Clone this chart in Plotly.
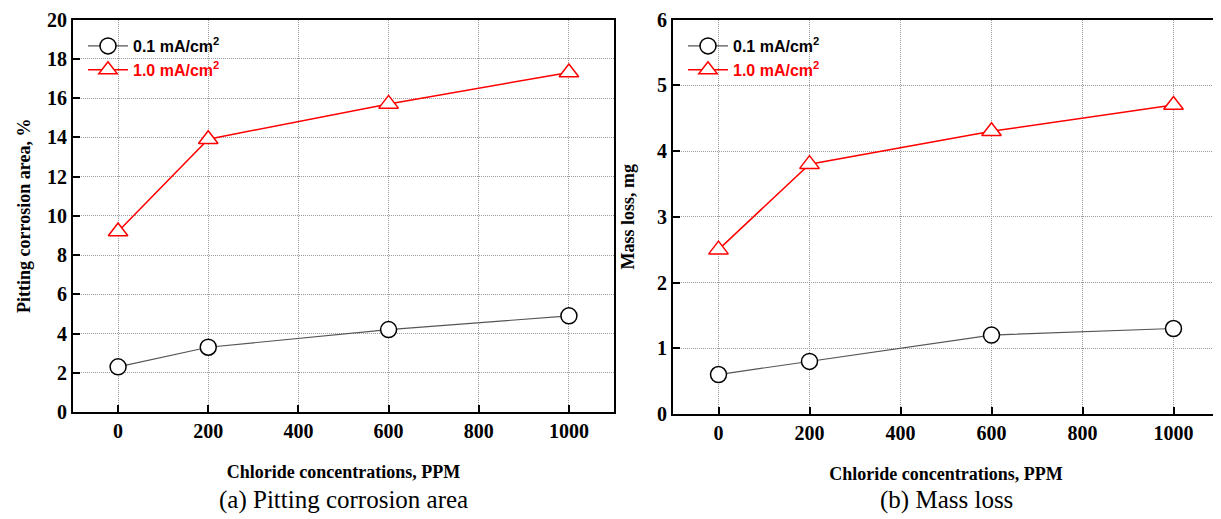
import plotly.graph_objects as go

# Data
chloride_ppm = [0, 200, 600, 1000]
pit_area_01 = [2.3, 3.3, 4.2, 4.9]
pit_area_10 = [9.2, 13.9, 15.7, 17.3]
mass_loss_01 = [0.6, 0.8, 1.2, 1.3]
mass_loss_10 = [2.5, 3.8, 4.3, 4.7]
series_names = ["0.1 mA/cm<sup>2</sup>", "<span style='color:red'>1.0 mA/cm<sup>2</sup></span>"]
x_ticks = [0, 200, 400, 600, 800, 1000]
captions = ["(a) Pitting corrosion area", "(b) Mass loss"]

W, H = 1221, 519
OFF = 8  # page body margin
SERIF = "Liberation Serif"
SANS = "Liberation Sans"


def fx(px):
    return (px - OFF) / W


def fy(py):
    return 1 - (py - OFF) / H


fig = go.Figure()


def add_pair(y01, y10, xa, ya, leg):
    fig.add_trace(go.Scatter(
        x=chloride_ppm, y=y01, mode="lines+markers", name=series_names[0],
        xaxis=xa, yaxis=ya, legend=leg,
        line=dict(color="#555555", width=1.2),
        marker=dict(symbol="circle", size=16, color="white",
                    line=dict(color="black", width=1.5)),
    ))
    fig.add_trace(go.Scatter(
        x=chloride_ppm, y=y10, mode="lines+markers", name=series_names[1],
        xaxis=xa, yaxis=ya, legend=leg,
        line=dict(color="red", width=1.5),
        marker=dict(symbol="triangle-up", size=17, color="white",
                    line=dict(color="red", width=1.5)),
    ))


add_pair(pit_area_01, pit_area_10, "x", "y", "legend")
add_pair(mass_loss_01, mass_loss_10, "x2", "y2", "legend2")

GRID = dict(showgrid=True, gridcolor="#9a9a9a", griddash="1px,1px", gridwidth=1)


def xaxis(domain, anchor):
    return dict(
        domain=domain, anchor=anchor, range=[-100, 1100], automargin=False,
        tickvals=x_ticks, ticks="inside", ticklen=7, tickwidth=2, tickcolor="black",
        showline=True, linewidth=2, linecolor="black", mirror=True,
        zeroline=False, **GRID,
        tickfont=dict(family=SERIF, size=20, color="black", weight="bold"),
        title=dict(text="Chloride concentrations, PPM", standoff=24,
                   font=dict(family=SERIF, size=18, color="black", weight="bold")),
    )


def yaxis(domain, anchor, rng, dtick, title, standoff):
    return dict(
        domain=domain, anchor=anchor, range=rng, dtick=dtick, automargin=False,
        ticks="inside", ticklen=7, tickwidth=2, tickcolor="black",
        showline=True, linewidth=2, linecolor="black", mirror=True,
        zeroline=False, **GRID,
        tickfont=dict(family=SERIF, size=20, color="black", weight="bold"),
        title=dict(text=title, standoff=standoff,
                   font=dict(family=SERIF, size=18, color="black", weight="bold")),
    )


legend_common = dict(
    bgcolor="rgba(0,0,0,0)", borderwidth=0,
    font=dict(family=SANS, size=16, color="black", weight="bold"),
    xanchor="left", yanchor="top", tracegroupgap=0, itemwidth=40,
)

fig.update_layout(
    width=W, height=H, autosize=False,
    margin=dict(l=0, r=0, t=0, b=0, pad=0, autoexpand=False),
    paper_bgcolor="white", plot_bgcolor="white",
    showlegend=True,
    xaxis=xaxis([fx(73), fx(614)], "y"),
    yaxis=yaxis([fy(412), fy(19.5)], "x", [0, 20], 2,
                "Pitting corrosion area, %", 12),
    xaxis2=xaxis([fx(673), fx(1219)], "y2"),
    yaxis2=yaxis([fy(414), fy(19.5)], "x2", [0, 6], 1,
                 "Mass loss, mg", 18),
    legend=dict(x=fx(83), y=fy(29), **legend_common),
    legend2=dict(x=fx(683), y=fy(29), **legend_common),
)

fig.add_annotation(text=captions[0], x=fx(343), y=fy(500), xref="paper", yref="paper",
                   xanchor="center", yanchor="middle",
                   showarrow=False, font=dict(family=SERIF, size=25, color="black"))
fig.add_annotation(text=captions[1], x=fx(946), y=fy(500), xref="paper", yref="paper",
                   xanchor="center", yanchor="middle",
                   showarrow=False, font=dict(family=SERIF, size=25, color="black"))

fig.write_html("out.html")
